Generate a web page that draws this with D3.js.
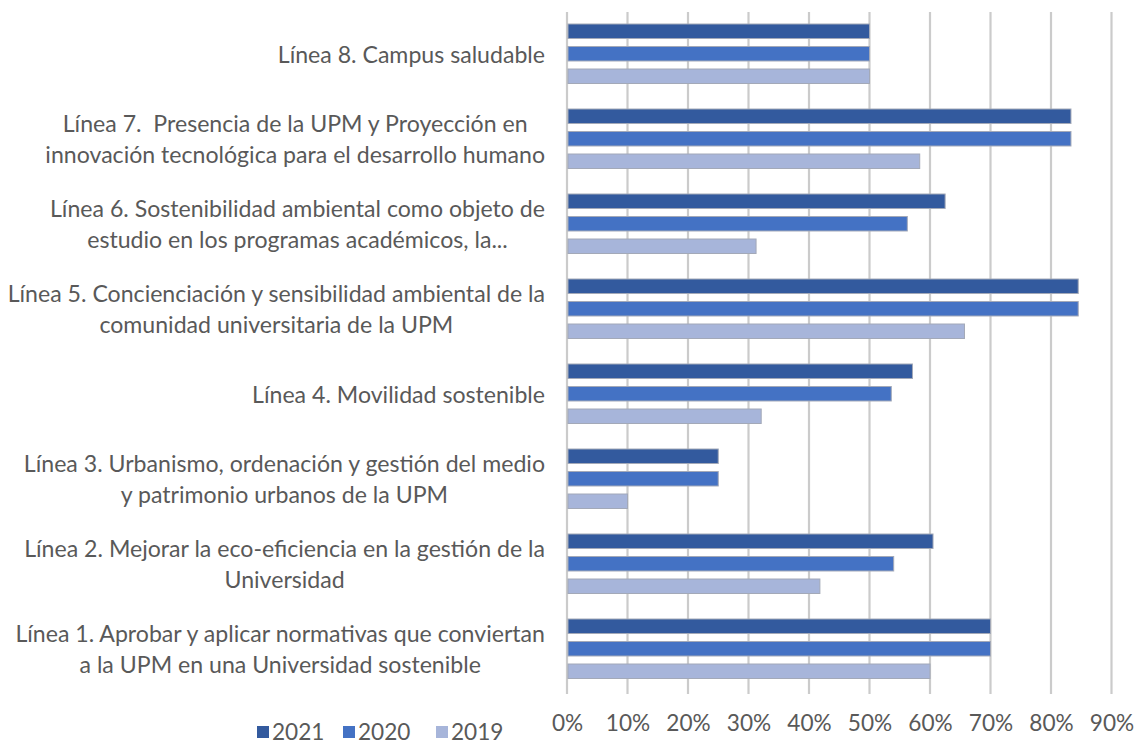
<!DOCTYPE html>
<html><head><meta charset="utf-8">
<script src="https://cdn.jsdelivr.net/npm/d3@7"></script>
<style>body{margin:0;background:#fff}svg{display:block}text{white-space:pre}</style>
</head><body>
<svg id="c" width="1140" height="745"></svg>
<script>
const categories = [
  ["Línea 8. Campus saludable"],
  ["Línea 7.  Presencia de la UPM y Proyección en", "innovación tecnológica para el desarrollo humano"],
  ["Línea 6. Sostenibilidad ambiental como objeto de", "estudio en los programas académicos, la..."],
  ["Línea 5. Concienciación y sensibilidad ambiental de la", "comunidad universitaria de la UPM"],
  ["Línea 4. Movilidad sostenible"],
  ["Línea 3. Urbanismo, ordenación y gestión del medio", "y patrimonio urbanos de la UPM"],
  ["Línea 2. Mejorar la eco-eficiencia en la gestión de la", "Universidad"],
  ["Línea 1. Aprobar y aplicar normativas que conviertan", "a la UPM en una Universidad sostenible"]
];
const seriesNames = ["2021", "2020", "2019"];
const values2021 = [50, 83.3, 62.5, 84.5, 57.1, 25, 60.5, 70];
const values2020 = [50, 83.3, 56.25, 84.5, 53.6, 25, 54.0, 70];
const values2019 = [50, 58.3, 31.25, 65.7, 32.1, 10, 41.8, 60];
const tickValues = [0, 10, 20, 30, 40, 50, 60, 70, 80, 90];
const colors = ["#335a9e", "#4472c4", "#a7b5da"];

const svg = d3.select("#c");
const series = [values2021, values2020, values2019];
const keys = categories.map((c, i) => "c" + i);

const x = d3.scaleLinear().domain([0, 90]).range([567, 1111.5]);
const y = d3.scaleBand().domain(keys).range([12, 692]).paddingInner(0).paddingOuter(0);
const y1 = d3.scaleBand().domain(seriesNames).range([12, 71.5]).paddingInner(0.356).paddingOuter(0);

// font fitting
const probe = svg.append("text").attr("font-family", "Lato").attr("font-size", 24)
  .text("Línea 1. Aprobar y aplicar normativas que conviertan");
const w = probe.node().getComputedTextLength();
probe.remove();
const k = 530 / w;
const labelFs = 24 * k;
const tickFs = 23.5 * k;
const textColor = "#595959";

// gridlines
svg.append("g").selectAll("line").data(tickValues).join("line")
  .attr("x1", d => x(d)).attr("x2", d => x(d))
  .attr("y1", 12).attr("y2", 694)
  .attr("stroke", "#cbcbcb").attr("stroke-width", 2.2);

// bars
const groups = svg.append("g").selectAll("g").data(keys).join("g")
  .attr("transform", d => `translate(0,${y(d)})`);
groups.selectAll("rect").data((d, i) => seriesNames.map((s, j) => ({s, v: series[j][i], j})))
  .join("rect")
  .attr("x", x(0) + 1)
  .attr("y", d => y1(d.s))
  .attr("width", d => x(d.v) - x(0) - 1)
  .attr("height", y1.bandwidth())
  .attr("fill", d => colors[d.j])
  .attr("stroke", "#a3a9b8").attr("stroke-width", 1);

// category labels
const lh = 30.5;
const lab = svg.append("g").attr("font-family", "Lato").attr("font-size", labelFs).attr("fill", textColor);
categories.forEach((lines, i) => {
  const cy = y(keys[i]) + y.bandwidth() / 2;
  const t = lab.append("text").attr("text-anchor", "middle").attr("xml:space", "preserve");
  const tspans = lines.map((ln, j) => t.append("tspan").text(ln)
    .attr("y", cy + (j - (lines.length - 1) / 2) * lh).attr("dy", "0.35em"));
  const maxW = d3.max(tspans, ts => ts.node().getComputedTextLength());
  const cx = 545 - maxW / 2;
  tspans.forEach(ts => ts.attr("x", cx));
});

// x axis
const axis = d3.axisBottom(x).tickValues(tickValues).tickFormat(d => d + "%").tickSize(0).tickPadding(0);
const ax = svg.append("g").attr("transform", "translate(0,723)").call(axis);
ax.select(".domain").remove();
ax.selectAll("text").attr("font-family", "Lato").attr("font-size", tickFs).attr("fill", textColor).attr("dy", "0.35em");

// legend
const legX = [257, 343, 436];
const leg = svg.append("g").selectAll("g").data(seriesNames).join("g")
  .attr("transform", (d, i) => `translate(${legX[i]},732)`);
leg.append("rect").attr("x", 0).attr("y", -6).attr("width", 12).attr("height", 12)
  .attr("fill", (d, i) => colors[i]);
leg.append("text").attr("x", 15).attr("dy", "0.35em").attr("font-family", "Lato")
  .attr("font-size", tickFs).attr("fill", textColor).text(d => d);
</script>
</body></html>
